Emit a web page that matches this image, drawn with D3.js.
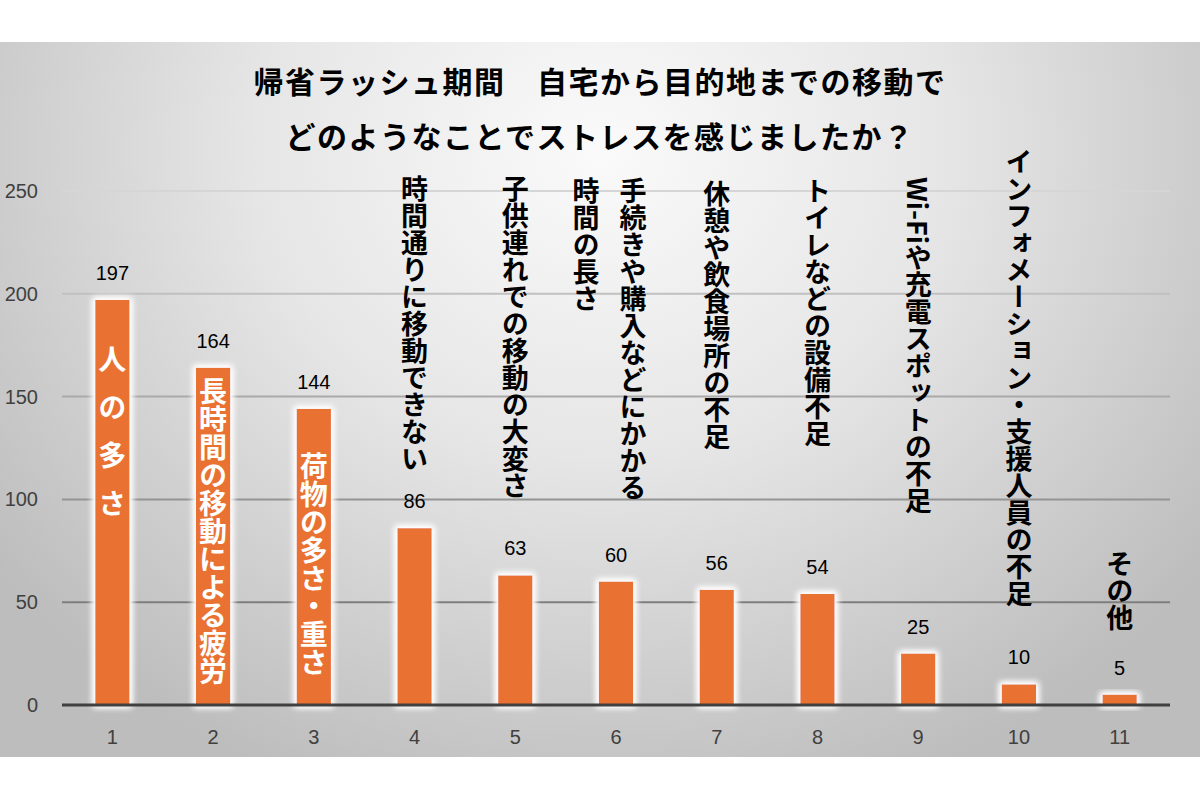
<!DOCTYPE html>
<html><head><meta charset="utf-8">
<script src="https://cdn.jsdelivr.net/npm/d3@7"></script>
<style>
html,body{margin:0;padding:0;background:#fff;}
svg{display:block;}
</style></head>
<body>
<svg id="chart" width="1200" height="800"></svg>
<script>
// ---- data ----
const categories = ["1","2","3","4","5","6","7","8","9","10","11"];
const values = [197,164,144,86,63,60,56,54,25,10,5];
const labels = [
  ["人の多さ"],
  ["長時間の移動による疲労"],
  ["荷物の多さ・重さ"],
  ["時間通りに移動できない"],
  ["子供連れでの移動の大変さ"],
  ["手続きや購入などにかかる","時間の長さ"],
  ["休憩や飲食場所の不足"],
  ["トイレなどの設備不足"],
  ["Wi-Fiや充電スポットの不足"],
  ["インフォメーション・支援人員の不足"],
  ["その他"]
];
const yTicks = [0,50,100,150,200,250];
const titleLines = ["帰省ラッシュ期間　自宅から目的地までの移動で","どのようなことでストレスを感じましたか？"];

// ---- layout (not data) ----
const labelTop = [345,377,452,175,175,177,180,177,177,148,550];
const labelInside = [true,true,true,false,false,false,false,false,false,false,false];

const svg = d3.select("#chart");
const defs = svg.append("defs");
const rg = defs.append("radialGradient").attr("id","bg")
  .attr("gradientUnits","userSpaceOnUse")
  .attr("cx",600).attr("cy",150).attr("r",760)
  .attr("gradientTransform","translate(600,150) scale(1,0.9) translate(-600,-150)");
rg.append("stop").attr("offset","0%").attr("stop-color","#fafafa");
rg.append("stop").attr("offset","45%").attr("stop-color","#e6e6e6");
rg.append("stop").attr("offset","100%").attr("stop-color","#bdbdbd");

const gg = defs.append("linearGradient").attr("id","gridg")
  .attr("gradientUnits","userSpaceOnUse").attr("x1",0).attr("y1",180).attr("x2",0).attr("y2",620);
gg.append("stop").attr("offset","0%").attr("stop-color","#d8d8d8");
gg.append("stop").attr("offset","100%").attr("stop-color","#7a7a7a");

const glow = defs.append("filter").attr("id","glow").attr("x","-50%").attr("y","-50%").attr("width","200%").attr("height","200%");
glow.append("feMorphology").attr("in","SourceAlpha").attr("operator","dilate").attr("radius",1.5).attr("result","d");
glow.append("feGaussianBlur").attr("in","d").attr("stdDeviation",3).attr("result","b");
glow.append("feFlood").attr("flood-color","#ffffff").attr("result","f");
glow.append("feComposite").attr("in","f").attr("in2","b").attr("operator","in").attr("result","g");
const fm = glow.append("feMerge");
fm.append("feMergeNode").attr("in","g");
fm.append("feMergeNode").attr("in","g");
fm.append("feMergeNode").attr("in","SourceGraphic");

svg.append("rect").attr("x",0).attr("y",42).attr("width",1200).attr("height",715).attr("fill","url(#bg)");

const x = d3.scaleBand().domain(categories).range([62,1170]).paddingInner(0.66).paddingOuter(0.33);
const y = d3.scaleLinear().domain([0,250]).range([705,191]);

const numFont = "'Liberation Sans',Arial,sans-serif";

// grid
svg.append("g").selectAll("line").data(yTicks.filter(t=>t>0)).join("line")
  .attr("x1",62).attr("x2",1170).attr("y1",d=>y(d)).attr("y2",d=>y(d))
  .attr("stroke","url(#gridg)").attr("stroke-width",2);

// y axis labels
const yAxis = d3.axisLeft(y).tickValues(yTicks).tickSize(0).tickPadding(0);
const ya = svg.append("g").attr("transform","translate(38,0)").call(yAxis);
ya.select(".domain").remove();
ya.selectAll("text").attr("font-family",numFont).attr("font-size",20).attr("fill","#404040");

// bars
svg.append("g").selectAll("rect").data(values).join("rect")
  .attr("x",(d,i)=>x(categories[i])).attr("width",x.bandwidth())
  .attr("y",d=>y(d)).attr("height",d=>y(0)-y(d))
  .attr("fill","#E97132").attr("filter","url(#glow)");

// baseline
svg.append("line").attr("x1",62).attr("x2",1170).attr("y1",y(0)).attr("y2",y(0))
  .attr("stroke","#404040").attr("stroke-width",3);

// x axis labels
const xAxis = d3.axisBottom(x).tickSize(0).tickPadding(0);
const xa = svg.append("g").attr("transform","translate(0,"+(y(0)+25)+")").call(xAxis);
xa.select(".domain").remove();
xa.selectAll("text").attr("font-family",numFont).attr("font-size",20).attr("fill","#404040");

// value labels
svg.append("g").selectAll("text").data(values).join("text")
  .attr("x",(d,i)=>x(categories[i])+x.bandwidth()/2)
  .attr("y",d=>y(d)-20)
  .attr("text-anchor","middle")
  .attr("font-family",numFont).attr("font-size",20).attr("fill","#000")
  .text(d=>d);

// category labels (vertical)
labels.forEach((cols,i)=>{
  const cx = x(categories[i])+x.bandwidth()/2;
  const inside = labelInside[i];
  const n = cols.length;
  cols.forEach((t,j)=>{
    const off = n===1 ? 0 : (j===0 ? 17 : -30);
    svg.append("text")
      .attr("x",cx+off).attr("y",labelTop[i])
      .style("writing-mode","vertical-rl")
      .attr("font-family","'Noto Sans CJK JP',sans-serif")
      .attr("font-weight","bold")
      .attr("font-size",inside?28:27)
      .attr("letter-spacing", i===0 ? 20 : 0)
      .attr("fill",inside?"#ffffff":"#000000")
      .text(t);
  });
});

// title
svg.append("g").selectAll("text").data(titleLines).join("text")
  .attr("x",600).attr("y",(d,i)=>93+i*55)
  .attr("text-anchor","middle")
  .attr("font-family","'Noto Sans CJK JP',sans-serif").attr("font-weight","bold")
  .attr("font-size",30).attr("letter-spacing",1.5).attr("fill","#000")
  .text(d=>d);
</script>
</body></html>
